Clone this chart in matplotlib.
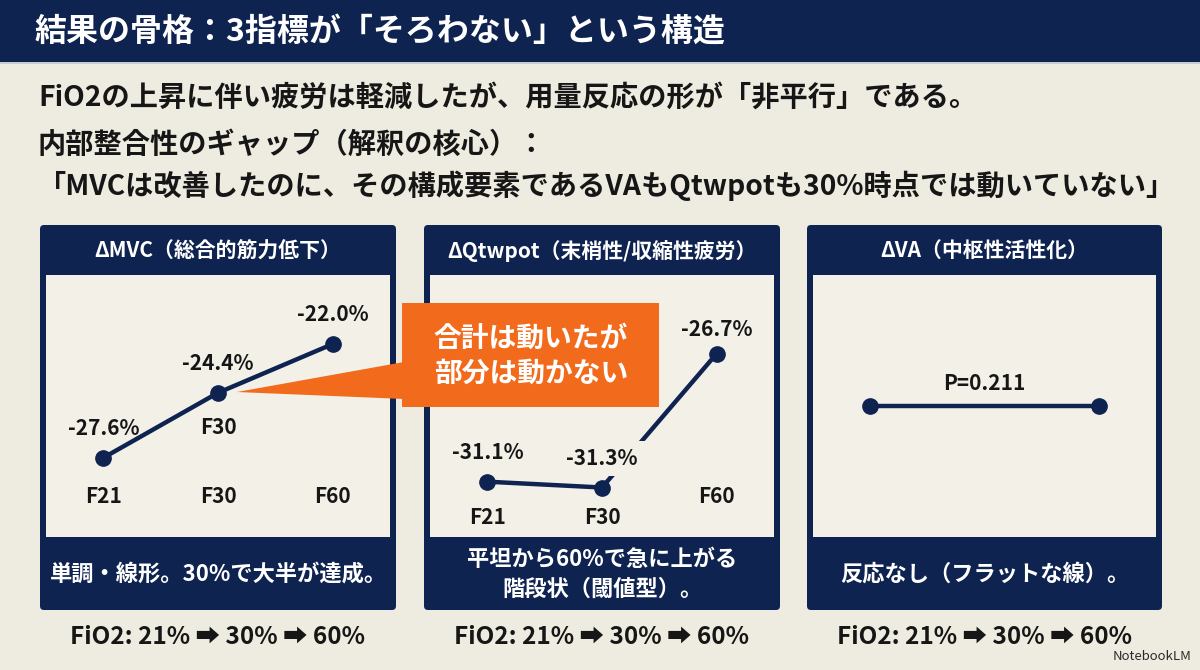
import matplotlib
matplotlib.use("Agg")
import matplotlib.pyplot as plt
from matplotlib.patches import Rectangle, FancyBboxPatch, Polygon
import matplotlib.transforms as mtransforms

# ---------------- data ----------------
title = "結果の骨格：3指標が「そろわない」という構造"
subtitle1 = "FiO2の上昇に伴い疲労は軽減したが、用量反応の形が「非平行」である。"
subtitle2 = "内部整合性のギャップ（解釈の核心）："
subtitle3 = "「MVCは改善したのに、その構成要素であるVAもQtwpotも30%時点では動いていない」"
conditions = ["F21", "F30", "F60"]
mvc_values = [-27.6, -24.4, -22.0]
qtw_values = [-31.1, -31.3, -26.7]
va_conditions = ["F21", "F60"]
va_values = [0.0, 0.0]
va_label = "P=0.211"
panel_titles = ["ΔMVC（総合的筋力低下）", "ΔQtwpot（末梢性/収縮性疲労）", "ΔVA（中枢性活性化）"]
panel_notes = ["単調・線形。30%で大半が達成。",
               "平坦から60%で急に上がる\n階段状（閾値型）。",
               "反応なし（フラットな線）。"]
fio2_footer = "FiO2: 21% ➡ 30% ➡ 60%"
callout = "合計は動いたが\n部分は動かない"
watermark = "NotebookLM"

# ---------------- style ----------------
plt.rcParams['font.family'] = ['Noto Sans CJK JP', 'DejaVu Sans']
NAVY = "#0f2350"
BG = "#eeece0"
INNER = "#f3f1e7"
ORANGE = "#f26b1d"
INK = "#161616"

W, H = 1200, 670
fig = plt.figure(figsize=(12, 6.7), dpi=100)
fig.patch.set_facecolor(BG)
bg = fig.add_axes([0, 0, 1, 1])
bg.set_xlim(0, W)
bg.set_ylim(H, 0)
bg.axis('off')

# header
bg.add_patch(Rectangle((0, 0), W, 62, facecolor=NAVY, edgecolor='none'))
bg.add_patch(Rectangle((0, 62), W, 2, facecolor="#c9ccd3", edgecolor='none'))
bg.text(35, 32, title, color='white', fontsize=23, fontweight='bold', va='center', ha='left')

bg.text(38, 98, subtitle1, color=INK, fontsize=20.3, fontweight='bold', va='center', ha='left')
bg.text(38, 145, subtitle2, color=INK, fontsize=20.3, fontweight='bold', va='center', ha='left')
bg.text(38, 186, subtitle3, color=INK, fontsize=20.3, fontweight='bold', va='center', ha='left')

panels_x = [(40, 396), (424, 780), (807, 1162)]
top, band_bot, inner_bot, bot = 225, 275, 537, 610
inset = 6

axes = []
for i, (x0, x1) in enumerate(panels_x):
    bg.add_patch(FancyBboxPatch((x0, top), x1 - x0, bot - top,
                                boxstyle="round,pad=0,rounding_size=4",
                                facecolor=NAVY, edgecolor='none'))
    bg.add_patch(Rectangle((x0 + inset, band_bot), x1 - x0 - 2 * inset, inner_bot - band_bot,
                           facecolor=INNER, edgecolor='none'))
    cx = (x0 + x1) / 2
    bg.text(cx, 251, panel_titles[i], color='white', fontsize=15, fontweight='bold',
            ha='center', va='center')
    bg.text(cx, (inner_bot + bot) / 2 + 1, panel_notes[i], color='white', fontsize=16,
            fontweight='bold', ha='center', va='center', linespacing=1.35)
    bg.text(cx, 637, fio2_footer, color=INK, fontsize=17.5, fontweight='bold',
            ha='center', va='center')
    ax = fig.add_axes([(x0 + inset) / W, 1 - inner_bot / H,
                       (x1 - x0 - 2 * inset) / W, (inner_bot - band_bot) / H])
    ax.set_xlim(-0.5, 2.5)
    ax.axis('off')
    axes.append(ax)

line_kw = dict(color=NAVY, lw=3.2, solid_capstyle='round', zorder=2)
mark_kw = dict(color=NAVY, marker='o', markersize=11, linestyle='none', zorder=5)
lbl_kw = dict(fontsize=15, fontweight='bold', color=INK, ha='center', va='center')

# panel 1: MVC
ax = axes[0]
ax.set_ylim(-31.5, -18.6)
xs = list(range(len(conditions)))
ax.plot(xs, mvc_values, **line_kw)
ax.plot(xs, mvc_values, **mark_kw)
for x, v in zip(xs, mvc_values):
    ax.annotate(f"{v:.1f}%", (x, v), xytext=(0, 21), textcoords='offset points', **lbl_kw)
trans = mtransforms.blended_transform_factory(ax.transData, ax.transAxes)
for x, c in zip(xs, conditions):
    ax.text(x, 0.153, c, transform=trans, **lbl_kw)
ax.annotate(conditions[1], (1, mvc_values[1]), xytext=(0, -25), textcoords='offset points', **lbl_kw)

# panel 2: Qtwpot
ax = axes[1]
ax.set_ylim(-33.0, -24.0)
ax.plot(xs, qtw_values, **line_kw)
ax.plot(xs, qtw_values, **mark_kw)
offs = [21, 21, 17]
for x, v, o in zip(xs, qtw_values, offs):
    ax.annotate(f"{v:.1f}%", (x, v), xytext=(0, o), textcoords='offset points',
                bbox=dict(boxstyle='square,pad=0.35', facecolor=INNER, edgecolor='none'),
                zorder=4, **lbl_kw)
trans = mtransforms.blended_transform_factory(ax.transData, ax.transAxes)
for x, c, yf in zip(xs, conditions, [0.076, 0.076, 0.153]):
    ax.text(x, yf, c, transform=trans, **lbl_kw)

# panel 3: VA
ax = axes[2]
ax.set_ylim(-1, 1)
va_x = [conditions.index(c) for c in va_conditions]
ax.plot(va_x, va_values, **line_kw)
ax.plot(va_x, va_values, **mark_kw)
ax.annotate(va_label, (sum(va_x) / 2, va_values[0]), xytext=(0, 16), textcoords='offset points', **lbl_kw)

# callout overlay
ov = fig.add_axes([0, 0, 1, 1], zorder=5)
ov.set_xlim(0, W)
ov.set_ylim(H, 0)
ov.axis('off')
ov.add_patch(Polygon([(404, 362), (237, 392), (404, 399)], closed=True, facecolor=ORANGE, edgecolor='none'))
ov.add_patch(Rectangle((402, 303), 257, 104, facecolor=ORANGE, edgecolor='none'))
ov.text(531, 356, callout, color='white', fontsize=20, fontweight='bold', ha='center', va='center',
        linespacing=1.3)

bg.text(1192, 656, watermark, color="#2a2a2a", fontsize=9.5, ha='right', va='center')

fig.savefig("out.png", dpi=100, facecolor=BG)
